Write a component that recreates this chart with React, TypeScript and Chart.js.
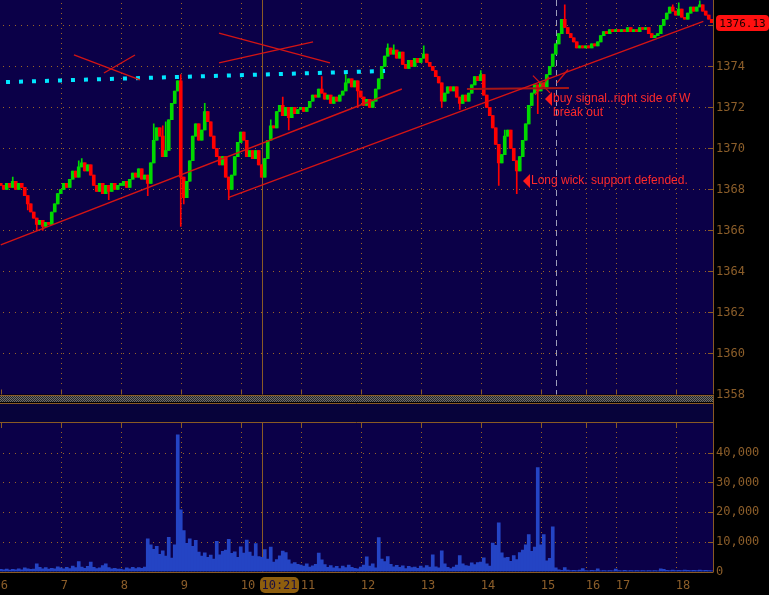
import React, { useEffect, useRef } from 'react';
import { Chart, registerables } from 'chart.js';

Chart.register(...registerables);

// ---------------- data ----------------
// time axis: one bar = 3 minutes, session starting 6:00 (gaps after 15:15 / 16:15)
const hourLabels = ['6', '7', '8', '9', '10', '11', '12', '13', '14', '15', '16', '17', '18'];
const hourTickBars = [0, 20, 40, 60, 80, 100, 120, 140, 160, 180, 195, 205, 225];
const priceTicks = [1358, 1360, 1362, 1364, 1366, 1368, 1370, 1372, 1374, 1376];
const volumeTicks = [0, 10000, 20000, 30000, 40000];

const firstOpen = 1368.3;
const closes = [
  // 6
  1368.2, 1368.0, 1368.3, 1368.1, 1368.4, 1368.0, 1368.3, 1368.1, 1367.7, 1367.3,
  1366.9, 1366.6, 1366.3, 1366.5, 1366.2, 1366.4, 1366.3, 1366.9, 1367.3, 1367.8,
  // 7
  1368.0, 1368.3, 1368.1, 1368.5, 1368.9, 1368.6, 1369.1, 1369.3, 1368.9, 1369.2,
  1368.7, 1368.2, 1367.9, 1368.3, 1367.8, 1368.2, 1367.9, 1368.3, 1368.0, 1368.2,
  // 8
  1368.2, 1368.4, 1368.1, 1368.5, 1368.8, 1368.6, 1369.0, 1368.5, 1368.7, 1368.3,
  1369.3, 1370.4, 1371.0, 1370.6, 1369.6, 1369.9, 1371.4, 1372.2, 1372.8, 1373.3,
  // 9
  1368.6, 1367.6, 1368.4, 1369.4, 1370.6, 1371.2, 1370.4, 1370.9, 1371.8, 1371.3,
  1370.6, 1370.0, 1369.6, 1369.2, 1369.6, 1368.6, 1368.0, 1368.7, 1369.6, 1370.3,
  // 10
  1370.8, 1370.4, 1369.6, 1369.9, 1369.5, 1369.9, 1369.2, 1368.6, 1369.5, 1370.4,
  1371.1, 1371.0, 1371.8, 1372.1, 1371.6, 1372.0, 1371.5, 1372.0, 1371.7, 1371.9,
  // 11
  1372.0, 1371.8, 1372.0, 1372.3, 1372.6, 1372.5, 1372.9, 1372.7, 1372.4, 1372.6,
  1372.2, 1372.5, 1372.3, 1372.6, 1372.8, 1373.2, 1373.4, 1373.0, 1373.3, 1372.8,
  // 12
  1372.5, 1372.1, 1372.4, 1372.0, 1372.3, 1372.9, 1373.4, 1374.0, 1374.5, 1374.9,
  1374.6, 1374.8, 1374.4, 1374.7, 1374.1, 1373.9, 1374.3, 1374.0, 1374.4, 1374.2,
  // 13
  1374.4, 1374.6, 1374.2, 1374.0, 1373.8, 1373.5, 1373.2, 1372.3, 1372.7, 1373.0,
  1372.8, 1373.0, 1372.5, 1372.2, 1372.6, 1372.3, 1372.7, 1373.1, 1373.5, 1373.3,
  // 14
  1373.6, 1372.6, 1372.0, 1371.6, 1371.0, 1370.2, 1369.3, 1369.7, 1370.6, 1370.9,
  1370.0, 1369.4, 1368.9, 1369.6, 1370.4, 1371.2, 1372.1, 1372.7, 1373.1, 1372.8,
  // 15
  1373.2, 1373.0, 1373.6, 1374.0, 1374.6, 1375.1, 1375.6, 1376.3, 1375.9, 1375.6,
  1375.4, 1375.2, 1374.9, 1375.0, 1374.9,
  // 16
  1375.0, 1374.9, 1375.1, 1375.0, 1375.2, 1375.5, 1375.7, 1375.6, 1375.8, 1375.7,
  // 17
  1375.8, 1375.7, 1375.8, 1375.7, 1375.9, 1375.7, 1375.8, 1375.7, 1375.9, 1375.8,
  1375.9, 1375.6, 1375.4, 1375.5, 1375.6, 1376.0, 1376.3, 1376.6, 1376.9, 1376.7,
  // 18
  1376.5, 1376.8, 1376.4, 1376.3, 1376.6, 1376.9, 1376.7, 1376.9, 1377.0, 1376.7,
  1376.5, 1376.3, 1376.13,
];

const wickHighs: Record<number, number> = {
  4: 1368.6, 26: 1369.4, 27: 1369.5, 51: 1371.2, 54: 1371.1, 55: 1371.3, 60: 1373.6,
  68: 1372.2, 90: 1371.4, 94: 1372.5, 107: 1373.5, 115: 1373.6, 129: 1375.1, 131: 1375.05,
  141: 1375.0, 160: 1373.8, 168: 1370.9, 188: 1377.0, 224: 1377.0, 226: 1377.1, 233: 1377.2,
};
const wickLows: Record<number, number> = {
  9: 1367.0, 12: 1366.0, 14: 1366.0, 36: 1367.5, 49: 1367.7, 60: 1366.2, 61: 1367.3,
  76: 1367.5, 96: 1370.9, 119: 1372.0, 147: 1372.0, 153: 1371.9, 166: 1368.2, 172: 1367.8,
  179: 1371.7,
};

const volumes = [
  // 6
  700, 600, 800, 500, 700, 600, 900, 600, 1200, 900, 700, 800, 2600, 1400, 900, 1300, 800, 1100, 900, 1600,
  // 7
  1200, 900, 1400, 1000, 1800, 1300, 3300, 1500, 1100, 1700, 3200, 1400, 1000, 1200, 2000, 2600, 1300, 900, 1100, 800,
  // 8
  800, 600, 1200, 900, 1400, 1000, 1300, 1100, 1500, 11000, 9000, 7500, 8500, 5800, 7000, 5200, 11500, 4500, 9000, 46000,
  // 9
  20800, 13800, 9500, 11000, 8500, 10500, 6500, 5200, 6300, 4800, 5500, 4200, 10200, 5600, 6800, 7200, 10800, 6100, 6600, 4800,
  // 10
  8300, 6200, 10600, 6500, 5200, 9400, 5000, 4800, 7400, 4200, 8200, 3200, 4000, 5300, 6900, 6400, 3900, 2600, 3000, 2400,
  // 11
  2200, 1800, 2600, 1500, 1900, 2400, 6200, 3900, 2300, 1400, 2000, 1200, 1700, 1000, 1800, 1300, 2200, 1400, 1100, 900,
  // 12
  1500, 2200, 4900, 1800, 2600, 1200, 11400, 4200, 3300, 5000, 2400, 1600, 2100, 1400, 1900, 1000, 1700, 1300, 1500, 1100,
  // 13
  1800, 1200, 2000, 1500, 5600, 1600, 1200, 7000, 2600, 1400, 1000, 1500, 2200, 5400, 2600, 2000, 1800, 2900, 2300, 3000,
  // 14
  3200, 4600, 2600, 1800, 9600, 8800, 16400, 6300, 4600, 4800, 3400, 5400, 4000, 6400, 7200, 9000, 12400, 6800, 8200, 35000,
  // 15
  9000, 12400, 3600, 4400, 15000, 1200, 600, 400, 1300, 500, 300, 400, 300, 500, 1000,
  // 16
  300, 200, 400, 300, 900, 200, 300, 200, 300, 200,
  // 17
  800, 300, 200, 400, 200, 300, 200, 300, 200, 300, 200, 300, 200, 300, 200, 900, 700, 400, 300, 500,
  // 18
  300, 400, 300, 500, 400, 300, 400, 300, 500, 300, 400, 300, 200,
];

// drawn studies (bar units, price)
const trendLines = [
  { x1: 0, y1: 1365.3, x2: 133.7, y2: 1372.9 },
  { x1: 75.8, y1: 1367.6, x2: 234.2, y2: 1376.2 },
];
const levelLine = { x1: 155.4, y1: 1372.9, x2: 189.4, y2: 1372.95 };
const crossMarks = [
  { x1: 24.4, y1: 1374.56, x2: 46.4, y2: 1373.34 },
  { x1: 34.4, y1: 1373.68, x2: 44.75, y2: 1374.56 },
  { x1: 72.75, y1: 1375.63, x2: 109.75, y2: 1374.17 },
  { x1: 72.75, y1: 1374.17, x2: 104.1, y2: 1375.2 },
  { x1: 177.4, y1: 1373.55, x2: 183.1, y2: 1372.71 },
  { x1: 178.1, y1: 1372.61, x2: 182.75, y2: 1373.49 },
  { x1: 185.4, y1: 1373.2, x2: 189.1, y2: 1373.85 },
];
const cyanLevel = { x1: 1.75, y1: 1373.24, x2: 128.1, y2: 1373.78 };
const notes = [
  { x: 181.4, y: 1372.41, lines: ['buy signal..right side of W', 'break out'] },
  { x: 174.1, y: 1368.41, lines: ['Long wick. support defended.'] },
];
const crosshairBar = 87;
const crosshairLabel = '10:21';
const closeMarkerBar = 185;

// ---------------- style ----------------
const X_MIN = -0.25;
const X_MAX = X_MIN + 713 / 3;
const PRICE_MIN = 1358;
const PRICE_MAX = 1377.24;
const VOL_MAX = 50000;
const PLOT_BG = '#0b0048';
const GRID = '#9a6426';
const AXIS = '#8a5a24';
const TEXT = '#8c5e2a';
const GREEN = '#00d800';
const RED = '#ff0000';
const LINE_RED = '#d41414';
const MONO = "'DejaVu Sans Mono', 'Liberation Mono', monospace";

function buildCandles() {
  const bodies: any[] = [];
  const wicks: any[] = [];
  const colors: string[] = [];
  let open = firstOpen;
  closes.forEach((c, i) => {
    const lo = Math.min(open, c);
    const hi = Math.max(open, c);
    bodies.push({ x: i, y: [lo, hi] });
    const wl = wickLows[i] !== undefined ? Math.min(lo, wickLows[i]) : lo;
    const wh = wickHighs[i] !== undefined ? Math.max(hi, wickHighs[i]) : hi;
    wicks.push({ x: i, y: [wl, wh] });
    colors.push(c >= open ? GREEN : RED);
    open = c;
  });
  return { bodies, wicks, colors };
}

function seg(s: { x1: number; y1: number; x2: number; y2: number }) {
  return [{ x: s.x1, y: s.y1 }, { x: s.x2, y: s.y2 }];
}

const crisp = (v: number) => Math.round(v) + 0.5;

const mainDecor = {
  id: 'mainDecor',
  beforeDraw(chart: any) {
    const { ctx, chartArea: a, scales } = chart;
    const x = scales.x;
    const y = scales.y;
    ctx.save();
    ctx.fillStyle = PLOT_BG;
    ctx.fillRect(a.left, a.top, a.right - a.left, a.bottom - a.top);
    ctx.lineWidth = 1;
    ctx.strokeStyle = GRID;
    ctx.setLineDash([1, 5]);
    priceTicks.forEach((v) => {
      const py = crisp(y.getPixelForValue(v));
      if (py > a.bottom - 2) return;
      ctx.beginPath();
      ctx.moveTo(a.left + 3, py);
      ctx.lineTo(a.right - 6, py);
      ctx.stroke();
    });
    ctx.setLineDash([1, 4]);
    hourTickBars.forEach((v) => {
      const px = crisp(x.getPixelForValue(v));
      if (px < a.left + 3) return;
      ctx.beginPath();
      ctx.moveTo(px, a.top + 3);
      ctx.lineTo(px, a.bottom - 7);
      ctx.stroke();
    });
    ctx.setLineDash([]);
    ctx.strokeStyle = AXIS;
    priceTicks.forEach((v) => {
      const py = crisp(y.getPixelForValue(v));
      ctx.beginPath();
      ctx.moveTo(a.right - 5, py);
      ctx.lineTo(a.right, py);
      ctx.stroke();
    });
    hourTickBars.forEach((v) => {
      const px = crisp(x.getPixelForValue(v));
      ctx.beginPath();
      ctx.moveTo(px, a.bottom - 5);
      ctx.lineTo(px, a.bottom);
      ctx.stroke();
    });
    ctx.beginPath();
    ctx.moveTo(crisp(a.right), a.top);
    ctx.lineTo(crisp(a.right), a.bottom);
    ctx.stroke();
    // crosshair
    const cx = crisp(x.getPixelForValue(crosshairBar));
    ctx.beginPath();
    ctx.moveTo(cx, a.top);
    ctx.lineTo(cx, a.bottom);
    ctx.stroke();
    // session close marker
    const mx = crisp(x.getPixelForValue(closeMarkerBar));
    ctx.strokeStyle = '#9c9cba';
    ctx.setLineDash([6, 4]);
    ctx.beginPath();
    ctx.moveTo(mx, a.top);
    ctx.lineTo(mx, a.bottom);
    ctx.stroke();
    ctx.restore();
  },
  afterDatasetsDraw(chart: any) {
    const { ctx, scales } = chart;
    const x = scales.x;
    const y = scales.y;
    ctx.save();
    notes.forEach((n) => {
      const px = Math.round(x.getPixelForValue(n.x));
      const py = Math.round(y.getPixelForValue(n.y));
      ctx.fillStyle = '#ff1a1a';
      ctx.beginPath();
      ctx.moveTo(px, py);
      ctx.lineTo(px + 7, py - 7);
      ctx.lineTo(px + 7, py + 7);
      ctx.closePath();
      ctx.fill();
      ctx.fillStyle = '#ff2a2a';
      ctx.font = "12px 'Liberation Sans', Arial, sans-serif";
      ctx.textBaseline = 'middle';
      ctx.textAlign = 'left';
      n.lines.forEach((t, k) => ctx.fillText(t, px + 8, py + k * 14));
    });
    ctx.restore();
  },
  afterDraw(chart: any) {
    const { ctx, chartArea: a, scales } = chart;
    const y = scales.y;
    const last = closes[closes.length - 1];
    const py = y.getPixelForValue(last);
    ctx.save();
    const bx = a.right + 3;
    const bw = 53;
    const bh = 16;
    ctx.fillStyle = '#ff1010';
    ctx.beginPath();
    (ctx as any).roundRect(bx, Math.round(py - bh / 2), bw, bh, 4);
    ctx.fill();
    ctx.fillStyle = '#1a0000';
    ctx.font = `11px ${MONO}`;
    ctx.textAlign = 'center';
    ctx.textBaseline = 'middle';
    ctx.fillText(last.toFixed(2), bx + bw / 2, Math.round(py) + 1);
    ctx.restore();
  },
};

const volDecor = {
  id: 'volDecor',
  beforeDraw(chart: any) {
    const { ctx, chartArea: a, scales } = chart;
    const x = scales.x;
    const y = scales.y;
    ctx.save();
    const r = a.right;
    // separator between panes
    const pc = document.createElement('canvas');
    pc.width = 2;
    pc.height = 2;
    const p = pc.getContext('2d')!;
    p.fillStyle = '#262626';
    p.fillRect(0, 0, 2, 2);
    p.fillStyle = '#6e6e6e';
    p.fillRect(0, 0, 1, 1);
    p.fillRect(1, 1, 1, 1);
    ctx.fillStyle = ctx.createPattern(pc, 'repeat');
    ctx.fillRect(0, a.top - 27, r, 6);
    ctx.fillStyle = '#07033a';
    ctx.fillRect(0, a.top - 19, r, 18);
    ctx.strokeStyle = AXIS;
    ctx.lineWidth = 1;
    [a.top - 28, a.top - 20, a.top - 1].forEach((yy) => {
      ctx.beginPath();
      ctx.moveTo(0, yy + 0.5);
      ctx.lineTo(r, yy + 0.5);
      ctx.stroke();
    });
    // plot
    ctx.fillStyle = PLOT_BG;
    ctx.fillRect(a.left, a.top, a.right - a.left, a.bottom - a.top);
    ctx.strokeStyle = GRID;
    ctx.setLineDash([1, 5]);
    volumeTicks.forEach((v) => {
      if (v === 0) return;
      const py = crisp(y.getPixelForValue(v));
      ctx.beginPath();
      ctx.moveTo(a.left + 3, py);
      ctx.lineTo(a.right - 6, py);
      ctx.stroke();
    });
    ctx.setLineDash([1, 4]);
    hourTickBars.forEach((v) => {
      const px = crisp(x.getPixelForValue(v));
      if (px < a.left + 3) return;
      ctx.beginPath();
      ctx.moveTo(px, a.top + 9);
      ctx.lineTo(px, a.bottom);
      ctx.stroke();
    });
    ctx.setLineDash([]);
    ctx.strokeStyle = AXIS;
    volumeTicks.forEach((v) => {
      const py = crisp(y.getPixelForValue(v));
      ctx.beginPath();
      ctx.moveTo(a.right - 5, py);
      ctx.lineTo(a.right, py);
      ctx.stroke();
    });
    hourTickBars.forEach((v) => {
      const px = crisp(x.getPixelForValue(v));
      ctx.beginPath();
      ctx.moveTo(px, a.top);
      ctx.lineTo(px, a.top + 5);
      ctx.stroke();
    });
    const cx = crisp(x.getPixelForValue(crosshairBar));
    ctx.beginPath();
    ctx.moveTo(cx, a.top);
    ctx.lineTo(cx, a.bottom);
    ctx.stroke();
    ctx.restore();
  },
  afterDraw(chart: any) {
    const { ctx, chartArea: a, scales } = chart;
    const x = scales.x;
    ctx.save();
    ctx.strokeStyle = AXIS;
    ctx.lineWidth = 1;
    ctx.beginPath();
    ctx.moveTo(0, crisp(a.bottom));
    ctx.lineTo(a.right, crisp(a.bottom));
    ctx.stroke();
    ctx.beginPath();
    ctx.moveTo(crisp(a.right), 0);
    ctx.lineTo(crisp(a.right), crisp(a.bottom));
    ctx.stroke();
    // crosshair time tag
    const cx = Math.round(x.getPixelForValue(crosshairBar));
    const bx = cx - 2;
    const by = a.bottom + 5.5;
    ctx.fillStyle = '#8e5e0e';
    ctx.beginPath();
    (ctx as any).roundRect(bx, by, 39, 16, 5);
    ctx.fill();
    ctx.fillStyle = '#1c1040';
    ctx.font = `12px ${MONO}`;
    ctx.textAlign = 'center';
    ctx.textBaseline = 'middle';
    ctx.fillText(crosshairLabel, bx + 19.5, by + 8.5);
    ctx.restore();
  },
};

function mainConfig(): any {
  const { bodies, wicks, colors } = buildCandles();
  const lineDs = (data: any[], color: string, width: number, extra: any = {}) => ({
    type: 'line',
    data,
    borderColor: color,
    borderWidth: width,
    pointRadius: 0,
    fill: false,
    tension: 0,
    order: 0,
    ...extra,
  });
  return {
    type: 'bar',
    data: {
      datasets: [
        ...trendLines.map((t) => lineDs(seg(t), LINE_RED, 1.4)),
        lineDs(seg(levelLine), '#a81616', 2),
        ...crossMarks.map((t) => lineDs(seg(t), LINE_RED, 1.3)),
        lineDs(seg(cyanLevel), '#00e6ff', 4, { borderDash: [4, 9], borderCapStyle: 'butt' }),
        {
          type: 'bar',
          data: bodies,
          backgroundColor: colors,
          barThickness: 3,
          minBarLength: 2,
          grouped: false,
          borderWidth: 0,
          order: 2,
        },
        {
          type: 'bar',
          data: wicks,
          backgroundColor: colors,
          barThickness: 1,
          grouped: false,
          borderWidth: 0,
          order: 3,
        },
      ],
    },
    options: {
      animation: false,
      responsive: false,
      devicePixelRatio: 1,
      events: [],
      layout: { padding: 0 },
      plugins: { legend: { display: false }, tooltip: { enabled: false } },
      scales: {
        x: {
          type: 'linear',
          min: X_MIN,
          max: X_MAX,
          offset: false,
          grid: { display: false, drawTicks: false },
          border: { display: false },
          ticks: { display: false },
          afterFit: (s: any) => {
            s.height = 25.5;
            s.paddingLeft = 0;
            s.paddingRight = 0;
          },
        },
        y: {
          type: 'linear',
          position: 'right',
          min: PRICE_MIN,
          max: PRICE_MAX,
          grid: { display: false, drawTicks: false },
          border: { display: false },
          afterBuildTicks: (s: any) => {
            s.ticks = priceTicks.map((v) => ({ value: v }));
          },
          ticks: {
            color: TEXT,
            font: { family: MONO, size: 12 },
            padding: 3,
            callback: (v: any) => String(v),
          },
          afterFit: (s: any) => {
            s.width = 56;
            s.paddingTop = 0;
            s.paddingBottom = 0;
          },
        },
      },
    },
    plugins: [mainDecor],
  };
}

function volConfig(): any {
  return {
    type: 'bar',
    data: {
      datasets: [
        {
          data: volumes.map((v, i) => ({ x: i, y: v })),
          backgroundColor: '#2444c4',
          barThickness: 3,
          borderWidth: 0,
          grouped: false,
        },
      ],
    },
    options: {
      animation: false,
      responsive: false,
      devicePixelRatio: 1,
      events: [],
      layout: { padding: { top: 28, left: 0, right: 0, bottom: 0 } },
      plugins: { legend: { display: false }, tooltip: { enabled: false } },
      scales: {
        x: {
          type: 'linear',
          min: X_MIN,
          max: X_MAX,
          offset: false,
          grid: { display: false, drawTicks: false },
          border: { display: false },
          afterBuildTicks: (s: any) => {
            s.ticks = hourTickBars.map((v) => ({ value: v }));
          },
          ticks: {
            color: TEXT,
            font: { family: MONO, size: 12 },
            padding: 7,
            align: 'start',
            autoSkip: false,
            maxRotation: 0,
            minRotation: 0,
            callback: (_v: any, i: number) => hourLabels[i],
          },
          afterFit: (s: any) => {
            s.height = 23.5;
            s.paddingLeft = 0;
            s.paddingRight = 0;
          },
        },
        y: {
          type: 'linear',
          position: 'right',
          min: 0,
          max: VOL_MAX,
          grid: { display: false, drawTicks: false },
          border: { display: false },
          afterBuildTicks: (s: any) => {
            s.ticks = volumeTicks.map((v) => ({ value: v }));
          },
          ticks: {
            color: TEXT,
            font: { family: MONO, size: 12 },
            padding: 3,
            callback: (v: any) => Number(v).toLocaleString('en-US'),
          },
          afterFit: (s: any) => {
            s.width = 56;
            s.paddingTop = 0;
            s.paddingBottom = 0;
          },
        },
      },
    },
    plugins: [volDecor],
  };
}

export default function App() {
  const mainRef = useRef<HTMLCanvasElement>(null);
  const volRef = useRef<HTMLCanvasElement>(null);
  useEffect(() => {
    const main = new Chart(mainRef.current!, mainConfig());
    const vol = new Chart(volRef.current!, volConfig());
    return () => {
      main.destroy();
      vol.destroy();
    };
  }, []);
  return (
    <div
      style={{
        position: 'fixed',
        left: 0,
        top: 0,
        width: 769,
        height: 595,
        background: '#000',
        overflow: 'hidden',
      }}
    >
      <canvas
        ref={mainRef}
        width={769}
        height={420}
        style={{ position: 'absolute', left: 0, top: 0, width: 769, height: 420 }}
      />
      <canvas
        ref={volRef}
        width={769}
        height={200}
        style={{ position: 'absolute', left: 0, top: 395, width: 769, height: 200 }}
      />
    </div>
  );
}
